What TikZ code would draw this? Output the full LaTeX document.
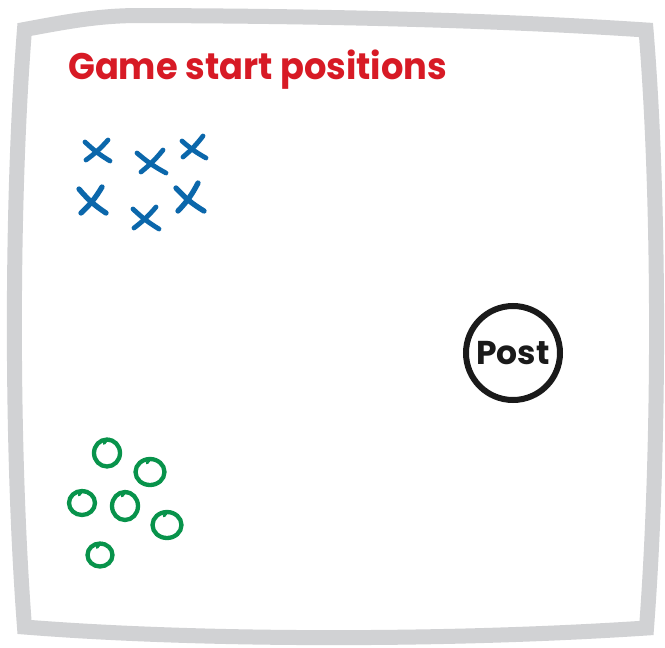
\documentclass[tikz,border=0pt]{standalone}
\usepackage{fontspec}
\setmainfont{Poppins}
\definecolor{framegray}{HTML}{D1D2D4}
\definecolor{titlered}{HTML}{D71A25}
\definecolor{xblue}{HTML}{0B67AB}
\definecolor{ogreen}{HTML}{08934B}
\definecolor{postblack}{HTML}{1A1A1A}
\begin{document}
\begin{tikzpicture}[x=1pt,y=-1pt,
  frame/.style={draw=framegray, line width=15pt, line join=miter},
  titletext/.style={font=\fontsize{37}{37}\selectfont\bfseries, text=titlered, inner sep=0pt},
  xmark/.style={draw=xblue, line width=4.8pt, line cap=round},
  omark/.style={draw=ogreen, line width=4.3pt, line cap=round},
  postc/.style={draw=postblack, line width=6pt, circle, minimum size=94pt, inner sep=0pt,
    font=\fontsize{33}{33}\selectfont\bfseries, text=postblack}]
\useasboundingbox (0,0) rectangle (665,648);
\fill[white] (0,0) rectangle (665,648);
% frame
\draw[frame] (24.5,29.5) .. controls (70,21) and (100,15.5) .. (140,15.5)
  .. controls (300,16) and (480,19) .. (646,30)
  .. controls (660,200) and (660,450) .. (646.5,628)
  .. controls (450,641) and (200,641) .. (24.5,627)
  .. controls (11,450) and (11,200) .. cycle;
% title
\node[titletext, anchor=base west] (title) at (68,79) {\scalebox{0.952}[1]{Game start positions}};
% X marks
\draw[xmark] (85,142) to[bend right=6] (110,161);
\draw[xmark] (108,140) to[bend left=6] (86,160);
\draw[xmark] (137,153) to[bend right=6] (166,173);
\draw[xmark] (163,150) to[bend left=6] (141,172);
\draw[xmark] (182,141) to[bend right=6] (206,158);
\draw[xmark] (203,136) to[bend left=6] (183,157);
\draw[xmark, line width=5.3pt] (79,189) to[bend right=8] (106,213);
\draw[xmark, line width=5.3pt] (102,187) to[bend left=8] (81,213);
\draw[xmark] (133,209) to[bend right=6] (159,229);
\draw[xmark] (156,207) to[bend left=6] (134,228);
\draw[xmark, line width=5.3pt] (176,188) to[bend right=8] (204,211);
\draw[xmark, line width=5.3pt] (198,183) to[bend left=8] (178,211);
% O marks
\foreach \cx/\cy/\rx/\ry in {107/453/13/13.5, 150/472/14.5/13, 82/503/13/12,
                             125/506/13/14, 167/525/14.5/13, 100/555/12.5/11.5}{
  \draw[omark] (\cx,\cy) ellipse [x radius=\rx, y radius=\ry];
  \draw[omark, line width=2.8pt] (\cx-3,\cy-\ry+4) .. controls (\cx-1,\cy-\ry+1) .. (\cx+3,\cy-\ry-0.5);
}
% Post
\node[postc] (post) at (513,353) {Post};
\end{tikzpicture}
\end{document}
